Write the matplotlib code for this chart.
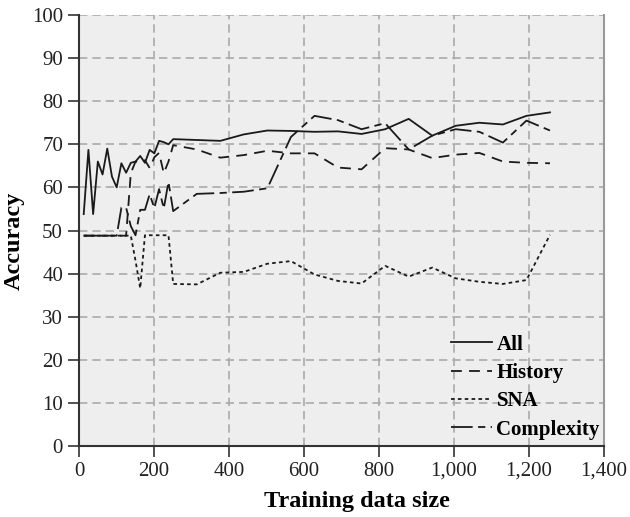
import matplotlib
matplotlib.use("Agg")
import matplotlib.pyplot as plt

plt.rcParams["font.family"] = ["Liberation Serif", "DejaVu Serif"]

# training sizes
sizes = [12.56, 25.12, 37.68, 50.24, 62.8, 75.36, 87.92, 100.48, 113.04, 125.6,
         138.16, 150.72, 163.28, 175.84, 188.4, 200.96, 213.52, 226.08, 238.64, 251.2,
         314.0, 376.8, 439.6, 502.4, 565.2, 628.0, 690.8, 753.6, 816.4, 879.2,
         942.0, 1004.8, 1067.6, 1130.4, 1193.2, 1256.0]

acc_all = [53.8, 68.7, 53.8, 66.0, 63.0, 69.0, 62.5, 60.0, 65.6, 63.4,
           65.7, 66.0, 67.3, 65.7, 68.7, 67.9, 70.8, 70.5, 70.0, 71.2,
           71.0, 70.8, 72.3, 73.2, 73.1, 72.9, 73.0, 72.4, 73.5, 75.9,
           72.0, 74.3, 75.0, 74.6, 76.6, 77.4]

acc_history = [48.8, 48.8, 48.8, 48.8, 48.8, 48.8, 48.8, 48.8, 48.8, 48.8,
               63.3, 66.0, 65.6, 66.3, 64.5, 67.0, 68.0, 63.3, 66.0, 69.8,
               68.8, 66.9, 67.5, 68.5, 67.9, 67.9, 64.6, 64.2, 69.1, 68.8,
               66.8, 67.6, 68.0, 66.0, 65.7, 65.6]

acc_sna = [48.8, 48.8, 48.8, 48.8, 48.8, 48.8, 48.8, 48.8, 48.8, 48.8,
           48.8, 43.0, 36.6, 48.9, 48.9, 48.9, 48.9, 48.9, 48.9, 37.6,
           37.5, 40.2, 40.4, 42.3, 42.9, 39.8, 38.3, 37.7, 41.8, 39.3,
           41.4, 38.9, 38.1, 37.6, 38.5, 49.0]

acc_complexity = [48.8, 48.8, 48.8, 48.8, 48.8, 48.8, 48.8, 48.8, 55.3, 55.3,
                  51.0, 48.9, 54.8, 54.8, 58.4, 55.2, 59.6, 55.1, 61.3, 54.5,
                  58.5, 58.7, 59.0, 59.8, 71.7, 76.6, 75.6, 73.5, 74.9, 68.8,
                  72.0, 73.5, 72.9, 70.4, 75.5, 73.2]

fig = plt.figure(figsize=(6.3, 5.17), dpi=100)
ax = fig.add_axes([0.1254, 0.1373, 0.8333, 0.8337])
ax.set_facecolor("#eeeeee")

lc = "#1a1a1a"
ax.plot(sizes, acc_all, color=lc, lw=1.3, label="All")
ax.plot(sizes, acc_history, color=lc, lw=1.3, dashes=(6, 4), label="History")
ax.plot(sizes, acc_sna, color=lc, lw=1.3, dashes=(2, 1.8), label="SNA")
ax.plot(sizes, acc_complexity, color=lc, lw=1.3, dashes=(12, 3, 4, 3), label="Complexity")

ax.set_xlim(0, 1400)
ax.set_ylim(0, 100)
ax.set_xticks(range(0, 1401, 200))
ax.set_xticklabels(["0", "200", "400", "600", "800", "1,000", "1,200", "1,400"])
ax.set_yticks(range(0, 101, 10))

ax.grid(True, color="#aaaaaa", linestyle=(0, (5, 3)), lw=1.2)
ax.set_axisbelow(True)

for s in ["left", "bottom"]:
    ax.spines[s].set_color("#333333")
    ax.spines[s].set_linewidth(1.5)
ax.spines["top"].set_visible(False)
ax.spines["right"].set_color("#999999")
ax.spines["right"].set_linewidth(1.5)

ax.tick_params(axis="both", direction="out", length=8, width=1.2, color="#333333",
               labelsize=15, labelcolor="#222222")

ax.set_xlabel("Training data size", fontsize=17.5, fontweight="bold")
ax.set_ylabel("Accuracy", fontsize=17.5, fontweight="bold")
ax.xaxis.set_label_coords(0.53, -0.105)
ax.yaxis.set_label_coords(-0.104, 0.475)

leg = ax.legend(loc="lower right", bbox_to_anchor=(1.014, -0.012), frameon=False,
                handlelength=2.0, handletextpad=0.2, labelspacing=0.4,
                borderaxespad=0.15, prop={"size": 15, "weight": "bold"})

fig.savefig("out.png", dpi=100)
